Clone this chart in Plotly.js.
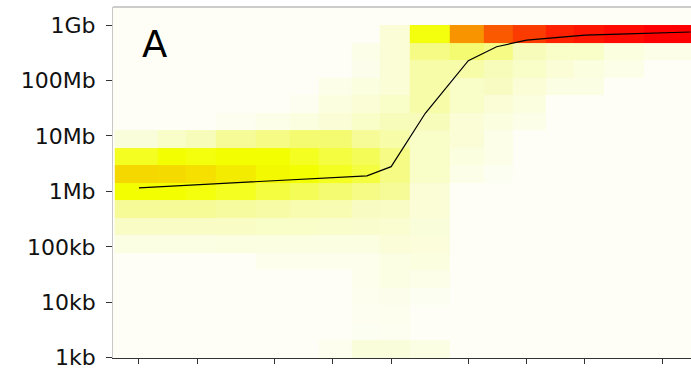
<!DOCTYPE html>
<html>
<head>
<meta charset="utf-8">
<script src="https://cdn.plot.ly/plotly-3.0.1.min.js"></script>
<style>html,body{margin:0;padding:0;background:#fff;}#chart{width:691px;height:368px;}</style>
</head>
<body>
<div id="chart"></div>
<script>
// Column bin edges (x, log axis) and row bin edges (y, bytes)
const xEdges = [0.75, 1.25, 1.75, 2.5, 4, 6, 8.5, 12.5, 17.5, 25, 40, 60, 85, 125, 175, 250, 400, 800];
const yEdges = [1000, 2069, 4281, 8859, 18330, 37927, 78476, 162378, 335982, 695193,
  1438450, 2976351, 6158482, 12742750, 26366509, 54555948, 112883789, 233572147, 483293024, 1000000000];

// Density per cell (0-10), rows from bottom (1kb) to top (1Gb), columns left to right
const density = [
  [0,0,0,0,0,0,0.6,1.8,1.8,1.2,0,0,0,0,0,0,0],
  [0,0,0,0,0,0,0,0.3,0.5,0,0,0,0,0,0,0,0],
  [0,0,0,0,0,0,0,0.4,0.6,0,0,0,0,0,0,0,0],
  [0,0,0,0,0,0,0,0.6,0.8,0.3,0,0,0,0,0,0,0],
  [0,0,0,0,0,0,0,0.7,1.2,1.0,0,0,0,0,0,0,0],
  [0,0,0,0,0.7,0.7,0.7,0.7,1.3,1.5,0,0,0,0,0,0,0],
  [1.2,1.2,1.2,1.4,1.4,1.4,1.4,1.4,1.9,1.7,0,0,0,0,0,0,0],
  [2.6,2.6,2.6,2.6,2.5,2.5,2.4,2.3,2.2,1.8,0,0,0,0,0,0,0],
  [4.0,4.0,4.0,3.8,3.6,3.3,3.2,2.7,2.6,2.0,0,0,0,0,0,0,0],
  [7.0,7.0,6.8,6.5,6.0,5.5,5.0,4.5,4.0,2.0,0,0,0,0,0,0,0],
  [8.0,7.95,7.8,7.5,7.15,7.0,6.5,6.0,4.5,2.5,1.0,0.3,0,0,0,0,0],
  [6.5,7.0,6.8,7.0,7.0,6.5,6.0,5.5,4.5,2.5,1.5,1.0,0,0,0,0,0],
  [1.8,2.5,3.0,4.0,4.5,5.0,5.0,4.0,3.5,2.5,2.0,1.0,0,0,0,0,0],
  [0,0,0,0.5,1.0,1.5,2.0,2.5,3.0,3.0,2.0,1.5,1.0,0,0,0,0],
  [0,0,0,0,0,0.5,1.5,2.0,2.5,3.5,2.5,2.0,1.5,0,0,0,0],
  [0,0,0,0,0,0,1.0,1.5,2.0,3.5,2.5,2.7,2.0,1.2,1.2,0,0],
  [0,0,0,0,0,0,0,0.8,2.0,3.5,3.5,3.0,2.5,2.0,1.5,1.0,0],
  [0,0,0,0,0,0,0,1.0,2.0,4.5,5.0,4.5,3.0,2.5,2.5,1.5,1.0],
  [0,0,0,0,0,0,0,0,2.0,6.8,9.0,9.4,9.6,9.78,9.86,9.93,10]
];

// Median line
const lineX = [1, 1.5, 2, 3, 5, 7, 10, 15, 20, 30, 50, 70, 100, 150, 200, 300, 500, 700];
const lineY = [1.16e6, 1.25e6, 1.32e6, 1.43e6, 1.56e6, 1.66e6, 1.78e6, 1.91e6, 2.79e6, 25.6e6,
  227e6, 406e6, 535e6, 615e6, 660e6, 688e6, 726e6, 748e6];

// Axis ticks
const xTicks = [1, 2, 5, 10, 20, 50, 100, 200, 500];
const yTicks = [1e3, 1e4, 1e5, 1e6, 1e7, 1e8, 1e9];
const yTickLabels = ['1kb', '10kb', '100kb', '1Mb', '10Mb', '100Mb', '1Gb'];
const panelLabel = 'A';

const colorscale = [
  [0, '#fefef6'], [0.1, '#fcfee8'], [0.2, '#fafdd6'], [0.3, '#f8fcba'],
  [0.4, '#f6fb98'], [0.5, '#f4fb70'], [0.6, '#f4fd40'], [0.7, '#f3ff00'],
  [0.8, '#f5d800'], [0.9, '#f79400'], [1, '#ff0000']
];

const data = [
  {type: 'heatmap', x: xEdges, y: yEdges, z: density, zmin: 0, zmax: 10,
   colorscale: colorscale, showscale: false, hoverinfo: 'skip'},
  {type: 'scatter', mode: 'lines', x: lineX, y: lineY,
   line: {color: '#000', width: 1.2}, hoverinfo: 'skip'}
];

const layout = {
  width: 691, height: 368,
  margin: {l: 113, r: 0, t: 7, b: 10, pad: 0},
  paper_bgcolor: '#ffffff', plot_bgcolor: '#fefef6',
  showlegend: false,
  font: {family: 'DejaVu Sans', color: '#111'},
  xaxis: {type: 'log', range: [-0.1341, 2.848], tickvals: xTicks, showticklabels: false,
    ticks: 'outside', ticklen: 5, tickwidth: 1, tickcolor: '#333',
    showline: true, linecolor: '#333', linewidth: 1, showgrid: false, zeroline: false},
  yaxis: {type: 'log', range: [2.995, 9.325], tickvals: yTicks, ticktext: yTickLabels,
    ticks: 'outside', ticklen: 6, tickwidth: 1, tickcolor: '#333', ticklabelstandoff: 6,
    ticklabeloverflow: 'allow',
    tickfont: {family: 'DejaVu Sans', size: 22, color: '#111'},
    showline: true, linecolor: '#c8c8c8', linewidth: 1, showgrid: false, zeroline: false},
  shapes: [
    {type: 'line', xref: 'paper', yref: 'paper', x0: 0, x1: 1, y0: 1, y1: 1,
     line: {color: '#999', width: 1}}
  ],
  annotations: [
    {text: panelLabel, xref: 'paper', yref: 'paper', x: 0.0467, y: 0.96,
     xanchor: 'left', yanchor: 'top', showarrow: false,
     font: {family: 'DejaVu Sans', size: 37, color: '#000'}}
  ]
};

Plotly.newPlot('chart', data, layout, {displayModeBar: false, staticPlot: true});
</script>
</body>
</html>
